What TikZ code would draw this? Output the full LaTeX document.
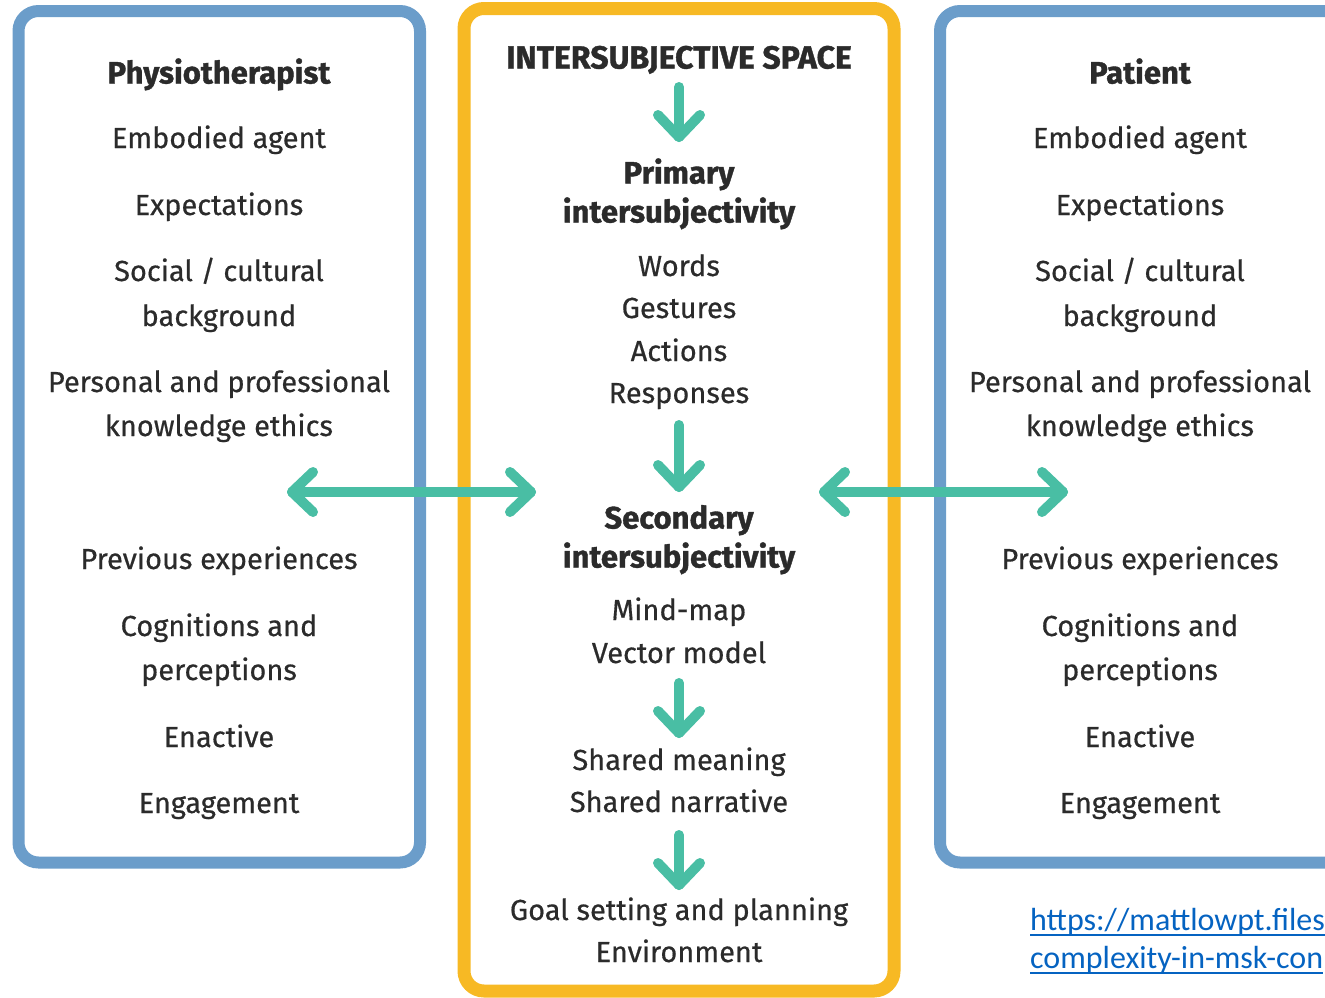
\documentclass[tikz,border=0pt]{standalone}
\usepackage{fontspec}
\setmainfont{Fira Sans}[FakeBold=0.5, BoldFeatures={FakeBold=1.2}]
\newfontfamily\medfont{Fira Sans}[FakeBold=0.5]
\newfontfamily\linkfont{Carlito}
\usetikzlibrary{calc}
\definecolor{frameblue}{RGB}{107,157,202}
\definecolor{frameorange}{RGB}{247,185,36}
\definecolor{arrowteal}{RGB}{73,190,164}
\definecolor{textgray}{RGB}{43,43,43}
\definecolor{linkblue}{RGB}{5,99,193}

\begin{document}
\begin{tikzpicture}[x=1pt,y=-1pt,
  frame/.style={line width=12pt, rounded corners=20pt},
  lbl/.style={font=\medfont\fontsize{29}{34}\selectfont, text=textgray, inner sep=0pt,
              text height=20pt, text depth=0pt, anchor=center},
  hdr/.style={lbl, font=\fontsize{31}{36}\selectfont\bfseries, text height=21pt},
  conn/.style={draw=arrowteal, line width=10pt, line cap=round, line join=round},
  link/.style={font=\linkfont\fontsize{32}{38}\selectfont, text=linkblue,
               inner sep=0pt, anchor=base west},
]
\useasboundingbox (0,0) rectangle (1325,997);
\clip (0,0) rectangle (1325,997);

% frames
\draw[frame, frameblue] (18.5,11) rectangle (420,862.5);
\draw[frame, frameorange, line width=13pt] (464,8.5) rectangle (894,991);
\draw[frame, frameblue] (940,11) rectangle (1420,862.5);

% the two agent columns
\foreach \side/\cx/\who in {L/219/Physiotherapist, R/1140/Patient}{
  \node[hdr] (\side-who) at (\cx,73) {\who};
  \node[lbl] (\side-emb) at (\cx,138) {Embodied agent};
  \node[lbl] (\side-exp) at (\cx,205) {Expectations};
  \node[lbl] (\side-soc) at (\cx,271) {Social / cultural};
  \node[lbl] (\side-bg)  at (\cx,316) {background};
  \node[lbl] (\side-per) at (\cx,382) {Personal and professional};
  \node[lbl] (\side-kno) at (\cx,426) {knowledge ethics};
  \node[lbl] (\side-prev) at (\cx,559) {Previous experiences};
  \node[lbl] (\side-cog) at (\cx,626) {Cognitions and};
  \node[lbl] (\side-perc) at (\cx,670) {perceptions};
  \node[lbl] (\side-ena) at (\cx,737) {Enactive};
  \node[lbl] (\side-eng) at (\cx,803) {Engagement};
}

% intersubjective space
\node[hdr, font=\fontsize{32}{37}\selectfont\bfseries] (space) at (679,58) {INTERSUBJECTIVE SPACE};
\node[hdr] (prim1) at (679,173) {Primary};
\node[hdr] (prim2) at (679,212) {intersubjectivity};
\node[lbl] (words) at (679,266) {Words};
\node[lbl] (gest)  at (679,308) {Gestures};
\node[lbl] (act)   at (679,351) {Actions};
\node[lbl] (resp)  at (679,393) {Responses};
\node[hdr] (sec1)  at (679,518) {Secondary};
\node[hdr] (sec2)  at (679,557) {intersubjectivity};
\node[lbl] (mind)  at (679,610) {Mind-map};
\node[lbl] (vect)  at (679,653) {Vector model};
\node[lbl] (smean) at (679,760) {Shared meaning};
\node[lbl] (snarr) at (679,802) {Shared narrative};
\node[lbl] (goal)  at (679,910) {Goal setting and planning};
\node[lbl] (env)   at (679,952) {Environment};

% arrow end points
\coordinate (d1a) at (679,87);  \coordinate (d1b) at (679,137);
\coordinate (d2a) at (679,425); \coordinate (d2b) at (679,487);
\coordinate (d3a) at (679,683); \coordinate (d3b) at (679,733);
\coordinate (d4a) at (679,835); \coordinate (d4b) at (679,885);
\coordinate (hLa) at (292,492); \coordinate (hLb) at (531,492);
\coordinate (hRa) at (824,492); \coordinate (hRb) at (1063,492);

% downward arrows
\foreach \a/\b in {d1a/d1b, d2a/d2b, d3a/d3b, d4a/d4b}{
  \draw[conn] (\a) -- (\b);
  \draw[conn] (\b) +(-21,-22) -- (\b) -- +(21,-22);
}
% double-headed horizontal arrows
\foreach \a/\b in {hLa/hLb, hRa/hRb}{
  \draw[conn] (\a) -- (\b);
  \draw[conn] (\a) +(21,-20) -- (\a) -- +(21,20);
  \draw[conn] (\b) +(-21,-20) -- (\b) -- +(-21,20);
}

% source link
\node[link] (url1) at (1030,930) {https://mattlowpt.files};
\node[link] (url2) at (1030,968) {complexity-in-msk-con};
\draw[linkblue, line width=1.8pt] ($(url1.base west)+(0,5)$) -- ($(url1.base east)+(0,5)$);
\draw[linkblue, line width=1.8pt] ($(url2.base west)+(0,5)$) -- ($(url2.base east)+(0,5)$);
\end{tikzpicture}
\end{document}
